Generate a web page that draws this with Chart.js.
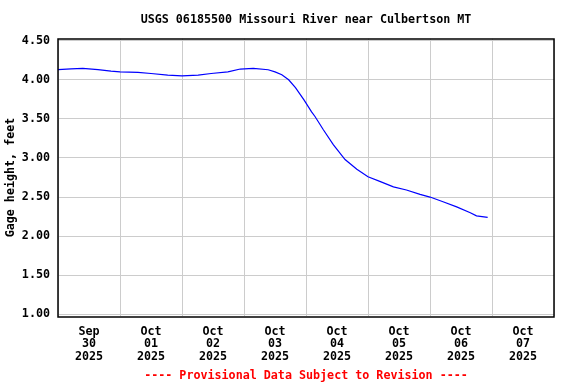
<!DOCTYPE html>
<html>
<head>
<meta charset="utf-8">
<script src="https://cdn.jsdelivr.net/npm/chart.js@4/dist/chart.umd.min.js"></script>
<style>
html,body{margin:0;padding:0;background:#fff;}
#wrap{position:relative;width:576px;height:384px;}
</style>
</head>
<body>
<div id="wrap"><canvas id="c" width="576" height="384"></canvas></div>
<script>
// Days since 2025-09-30 00:00 (local station time)
const dayOffsets = [0, 0.21, 0.40, 0.645, 0.855, 1.0, 1.29, 1.5, 1.77, 2.0, 2.26, 2.47, 2.74, 2.94, 3.15, 3.39, 3.50, 3.61, 3.72, 3.83, 3.97, 4.09, 4.145, 4.28, 4.44, 4.63, 4.82, 5.0, 5.19, 5.41, 5.62, 5.84, 6.0, 6.21, 6.43, 6.65, 6.75, 6.93];
const gageHeight = [4.13, 4.14, 4.145, 4.13, 4.11, 4.10, 4.095, 4.08, 4.06, 4.05, 4.06, 4.08, 4.10, 4.137, 4.145, 4.128, 4.10, 4.064, 4.00, 3.90, 3.74, 3.59, 3.53, 3.36, 3.17, 2.98, 2.855, 2.76, 2.70, 2.63, 2.59, 2.535, 2.50, 2.44, 2.375, 2.30, 2.26, 2.24];
const dayLabels = [["Sep","30","2025"],["Oct","01","2025"],["Oct","02","2025"],["Oct","03","2025"],["Oct","04","2025"],["Oct","05","2025"],["Oct","06","2025"],["Oct","07","2025"]];
const yTickValues = [1.0, 1.5, 2.0, 2.5, 3.0, 3.5, 4.0, 4.5];

const FONT = "'DejaVu Sans Mono', 'Liberation Mono', monospace";
const points = dayOffsets.map((d, i) => ({x: d, y: gageHeight[i]}));

const frame = {
  id: 'frame',
  afterDraw(chart) {
    const a = chart.chartArea, ctx = chart.ctx;
    ctx.save();
    ctx.strokeStyle = '#000';
    ctx.lineWidth = 1.5;
    ctx.strokeRect(Math.round(a.left), Math.round(a.top), Math.round(a.right - a.left), Math.round(a.bottom - a.top));
    ctx.restore();
  }
};

new Chart(document.getElementById('c'), {
  type: 'line',
  data: {
    datasets: [{
      data: points,
      borderColor: '#0000ff',
      borderWidth: 1.2,
      pointRadius: 0,
      tension: 0,
      fill: false
    }]
  },
  options: {
    responsive: false,
    animation: false,
    devicePixelRatio: 1,
    layout: {padding: {left: 0, right: 22, top: 0, bottom: 0}},
    plugins: {
      legend: {display: false},
      tooltip: {enabled: false},
      title: {
        display: true,
        fullSize: false,
        text: 'USGS 06185500 Missouri River near Culbertson MT',
        color: '#000',
        font: {family: FONT, size: 11.7, weight: 'bold', lineHeight: 1.2},
        padding: {top: 12.8, bottom: 11.8}
      },
      subtitle: {
        display: true,
        fullSize: false,
        position: 'bottom',
        text: '---- Provisional Data Subject to Revision ----',
        color: '#ff0000',
        font: {family: FONT, size: 11.7, weight: 'bold', lineHeight: 1.2},
        padding: {top: 0, bottom: 0.8}
      }
    },
    scales: {
      x: {
        type: 'linear',
        min: 0,
        max: 8,
        afterBuildTicks(scale) {
          scale.ticks = dayLabels.map((_, i) => ({value: i + 0.5}));
        },
        afterFit(scale) { scale.height = 52.8; },
        grid: {color: '#cccccc', lineWidth: 1, offset: true, drawTicks: false},
        border: {display: false},
        ticks: {
          color: '#000',
          font: {family: FONT, size: 11.7, weight: 'bold', lineHeight: 1.07},
          padding: 9,
          maxRotation: 0,
          autoSkip: false,
          callback(value, index) { return dayLabels[index]; }
        }
      },
      y: {
        type: 'linear',
        min: 1 - 2 / 78,
        max: 4.5 + 2 / 78,
        afterBuildTicks(scale) {
          scale.ticks = yTickValues.map(v => ({value: v}));
        },
        afterFit(scale) { scale.width = 58; },
        grid: {color: '#cccccc', lineWidth: 1, drawTicks: false},
        border: {display: false},
        title: {
          display: true,
          text: 'Gage height, feet',
          color: '#000',
          font: {family: FONT, size: 11.7, weight: 'bold', lineHeight: 1.2},
          padding: {top: 4, bottom: 0}
        },
        ticks: {
          color: '#000',
          font: {family: FONT, size: 11.7, weight: 'bold'},
          padding: 8,
          callback(value) { return Number(value).toFixed(2); }
        }
      }
    }
  },
  plugins: [frame]
});
</script>
</body>
</html>
